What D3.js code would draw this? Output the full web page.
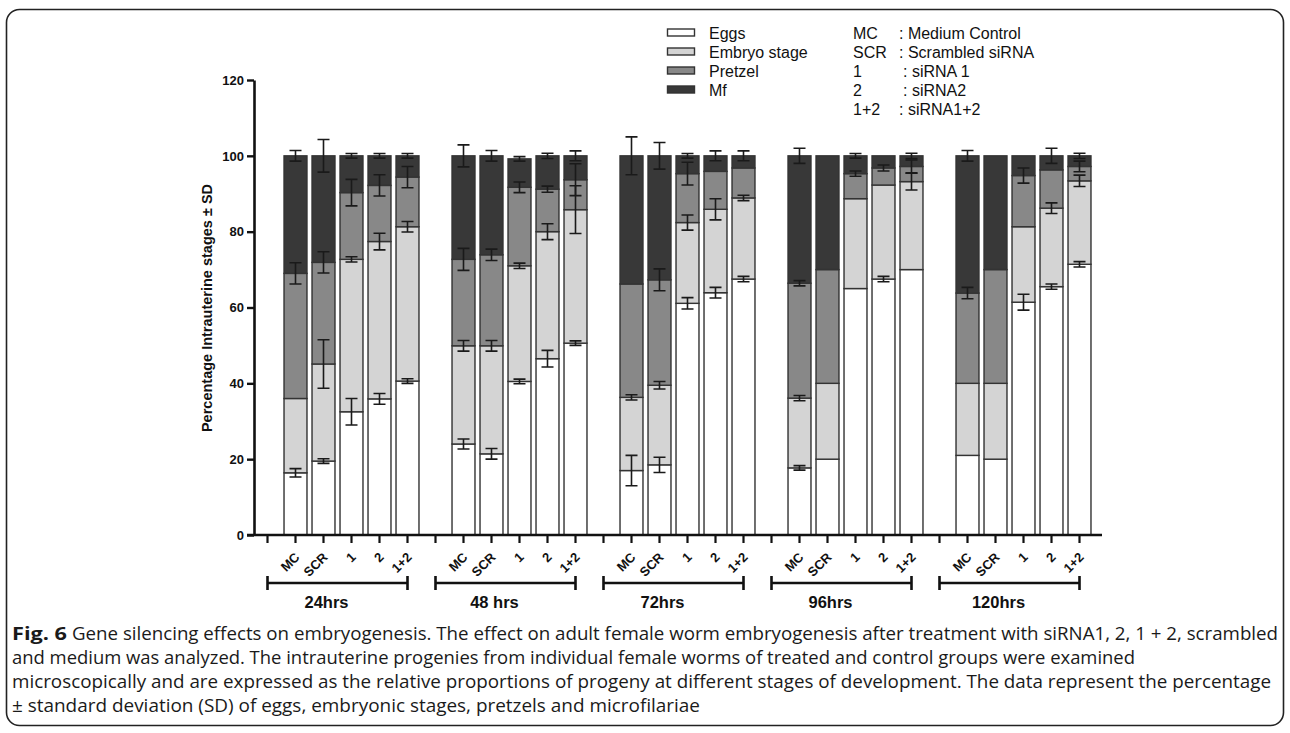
<!DOCTYPE html>
<html>
<head>
<meta charset="utf-8">
<script src="https://cdn.jsdelivr.net/npm/d3@7/dist/d3.min.js"></script>
<style>
  body { margin: 0; background: #fff; }
  svg text { font-family: Arial, "Liberation Sans", sans-serif; fill: #111; }
  .caption text { font-family: "Open Sans", "Noto Sans", sans-serif; fill: #1a1a1a; }
</style>
</head>
<body>
<svg id="chart" width="1290" height="733"></svg>
<script>
// time points and treatments (bars inside each time point)
const groups = ["24hrs", "48 hrs", "72hrs", "96hrs", "120hrs"];
const treatments = ["MC", "SCR", "1", "2", "1+2"];
const stages = ["Eggs", "Embryo stage", "Pretzel", "Mf"];
const yTicks = [0, 20, 40, 60, 80, 100, 120];

// percentage of each stage, group by group (MC, SCR, 1, 2, 1+2)
const eggs = [
  16.4, 19.5, 32.5, 35.9, 40.6,
  24.0, 21.4, 40.5, 46.5, 50.6,
  17.0, 18.5, 61.1, 63.9, 67.5,
  17.7, 20.0, 65.0, 67.5, 70.0,
  21.0, 20.0, 61.4, 65.5, 71.4
];
const embryo = [
  19.6, 25.6, 40.2, 41.5, 40.7,
  25.9, 28.5, 30.5, 33.5, 35.2,
  19.3, 21.0, 21.3, 22.0, 21.4,
  18.4, 20.0, 23.7, 24.8, 23.2,
  19.0, 20.0, 19.9, 20.7, 22.0
];
const pretzel = [
  33.0, 26.8, 17.6, 14.8, 13.1,
  22.8, 24.0, 20.7, 11.2, 7.9,
  29.9, 27.8, 12.9, 10.0, 7.9,
  30.3, 30.0, 6.6, 4.5, 4.0,
  23.8, 30.0, 13.5, 10.1, 3.8
];
const mf = [
  31.0, 28.1, 9.7, 7.8, 5.6,
  27.3, 26.1, 7.5, 8.8, 6.3,
  33.8, 32.7, 4.7, 4.1, 3.2,
  33.6, 30.0, 4.7, 3.2, 2.8,
  36.2, 30.0, 5.2, 3.7, 2.8
];

// standard deviations (0 = no error bar drawn)
const eggsSD = [
  1.1, 0.6, 3.5, 1.4, 0.6,
  1.3, 1.4, 0.6, 2.2, 0.6,
  4.0, 2.0, 1.5, 1.4, 0.7,
  0.6, 0, 0, 0.7, 0,
  0, 0, 2.1, 0.7, 0.7
];
const embryoSD = [
  0, 6.4, 0.7, 2.2, 1.4,
  1.4, 1.4, 0.7, 2.1, 6.3,
  0.7, 1.0, 2.0, 2.8, 0.7,
  0.7, 0, 0, 0, 2.2,
  0, 0, 0, 1.4, 1.5
];
const pretzelSD = [
  2.8, 2.8, 3.5, 2.8, 2.8,
  2.9, 1.5, 1.4, 0.8, 4.2,
  0, 2.9, 3.0, 0, 0,
  0.7, 0, 0.7, 0.8, 1.7,
  1.5, 0, 2.0, 0, 1.4
];
const mfSD = [
  1.4, 4.3, 0.6, 0.6, 0.6,
  2.9, 1.4, 0.6, 0.7, 1.3,
  5.0, 3.5, 0.6, 1.3, 1.3,
  2.0, 0, 0.6, 0, 0.7,
  1.4, 0, 0, 2.0, 0.7
];

const abbreviations = ["MC", "SCR", "1", "2", "1+2"];
const meanings = [": Medium Control", ": Scrambled siRNA", ": siRNA 1", ": siRNA2", ": siRNA1+2"];

const captionBold = "Fig. 6";
const captionLines = [
  "Gene silencing effects on embryogenesis. The effect on adult female worm embryogenesis after treatment with siRNA1, 2, 1 + 2, scrambled",
  "and medium was analyzed. The intrauterine progenies from individual female worms of treated and control groups were examined",
  "microscopically and are expressed as the relative proportions of progeny at different stages of development. The data represent the percentage",
  "\u00b1 standard deviation (SD) of eggs, embryonic stages, pretzels and microfilariae"
];

const fills = ["#ffffff", "#d4d4d4", "#888888", "#383838"];
const values = [eggs, embryo, pretzel, mf];
const sds = [eggsSD, embryoSD, pretzelSD, mfSD];

// build the rows for the stack
const rows = [];
groups.forEach((g, gi) => {
  treatments.forEach((t, ti) => {
    const i = gi * treatments.length + ti;
    const row = { key: g + "|" + t, group: g, treatment: t, i: i };
    stages.forEach((s, si) => { row[s] = values[si][i]; });
    rows.push(row);
  });
});

// one empty slot before each group, then five bars
const slots = [];
groups.forEach(g => {
  slots.push(g + "|gap");
  treatments.forEach(t => slots.push(g + "|" + t));
});

const svg = d3.select("#chart");

// frame
svg.append("rect")
  .attr("x", 6.5).attr("y", 9.5)
  .attr("width", 1277).attr("height", 716)
  .attr("rx", 13).attr("ry", 13)
  .attr("fill", "none").attr("stroke", "#222").attr("stroke-width", 1.6);

const x = d3.scaleBand()
  .domain(slots)
  .range([253.5, 1093.5])
  .paddingInner(0.18)
  .paddingOuter(0.09);

const y = d3.scaleLinear().domain([0, 120]).range([535, 80]);

const stacked = d3.stack().keys(stages)(rows);

// bars
const layers = svg.append("g").attr("class", "bars")
  .selectAll("g")
  .data(stacked)
  .enter().append("g")
  .attr("fill", (d, i) => fills[i]);

layers.selectAll("rect")
  .data(d => d)
  .enter().append("rect")
  .attr("x", d => x(d.data.key))
  .attr("y", d => y(d[1]))
  .attr("width", x.bandwidth())
  .attr("height", d => y(d[0]) - y(d[1]))
  .attr("stroke", "#333")
  .attr("stroke-width", 1.4);

// error bars at the top of every segment
const errs = [];
stacked.forEach((layer, si) => {
  layer.forEach(d => {
    const sd = sds[si][d.data.i];
    if (sd > 0) errs.push({ key: d.data.key, top: d[1], sd: sd });
  });
});

const cap = 6;
const errG = svg.append("g").attr("class", "errors")
  .attr("stroke", "#1a1a1a").attr("stroke-width", 1.6).attr("fill", "none");
errs.forEach(e => {
  const cx = x(e.key) + x.bandwidth() / 2;
  const y1 = y(e.top + e.sd), y2 = y(e.top - e.sd);
  errG.append("path")
    .attr("d", `M${cx},${y1}V${y2}M${cx - cap},${y1}H${cx + cap}M${cx - cap},${y2}H${cx + cap}`);
});

// y axis
const yAxis = svg.append("g")
  .attr("transform", "translate(254,0)")
  .call(d3.axisLeft(y).tickValues(yTicks).tickSize(7).tickSizeOuter(0).tickPadding(3));
yAxis.select(".domain").attr("stroke", "#111").attr("stroke-width", 2.6);
yAxis.selectAll(".tick line").attr("stroke", "#111").attr("stroke-width", 2.4);
yAxis.selectAll(".tick text")
  .style("font-size", "13px").style("font-weight", "bold").attr("fill", "#111");

// x axis: ticks at every slot, labels only under bars
const xAxis = svg.append("g")
  .attr("transform", "translate(0,535)")
  .call(d3.axisBottom(x).tickSize(8).tickSizeOuter(0).tickFormat(""));
xAxis.select(".domain").attr("d", "M247,0H1102").attr("stroke", "#111").attr("stroke-width", 2.6);
xAxis.selectAll(".tick line").attr("stroke", "#111").attr("stroke-width", 2.2);

svg.append("g").selectAll("text")
  .data(rows)
  .enter().append("text")
  .attr("transform", d => `translate(${x(d.key) + x.bandwidth() / 2 + 5},558) rotate(-45)`)
  .attr("text-anchor", "end")
  .style("font-size", "13px")
  .style("font-weight", "bold")
  .text(d => d.treatment);

// group brackets and labels
const brackets = svg.append("g").attr("stroke", "#111").attr("stroke-width", 2.6).attr("fill", "none");
groups.forEach(g => {
  const x0 = x(g + "|gap") + x.bandwidth() / 2;
  const x1 = x(g + "|1+2") + x.bandwidth() / 2;
  brackets.append("path").attr("d", `M${x0},576V590M${x0},583H${x1}M${x1},576V590`);
  svg.append("text")
    .attr("x", x(g + "|1") + x.bandwidth() / 2 - 25)
    .attr("y", 608)
    .attr("text-anchor", "middle")
    .style("font-size", "16.5px")
    .style("font-weight", "bold")
    .text(g);
});

// y axis title
svg.append("text")
  .attr("transform", "translate(212,308) rotate(-90)")
  .attr("text-anchor", "middle")
  .style("font-size", "14.5px")
  .style("font-weight", "bold")
  .text("Percentage Intrauterine stages \u00b1 SD");

// legend: stages
const legend = svg.append("g");
stages.forEach((s, i) => {
  const ly = 39 + i * 19;
  legend.append("rect")
    .attr("x", 667.5).attr("y", ly - 10).attr("width", 27).attr("height", 7)
    .attr("fill", fills[i]).attr("stroke", "#333").attr("stroke-width", 1.4);
  legend.append("text").attr("x", 709).attr("y", ly).style("font-size", "16px").text(s);
});

// legend: abbreviations
abbreviations.forEach((a, i) => {
  const ly = 39 + i * 19;
  legend.append("text").attr("x", 853).attr("y", ly).style("font-size", "16px").text(a);
  legend.append("text").attr("x", (i === 2 || i === 3) ? 903 : 899).attr("y", ly)
    .style("font-size", "16px").text(meanings[i]);
});

// caption
const cap0 = svg.append("g").attr("class", "caption");
cap0.append("text")
  .attr("x", 12).attr("y", 640)
  .attr("textLength", 55).attr("lengthAdjust", "spacingAndGlyphs")
  .style("font-size", "18.5px").style("font-weight", "bold")
  .text(captionBold);
const lineEnds = [1278, 1135, 1271, 700];
captionLines.forEach((t, i) => {
  const x0 = i === 0 ? 72 : 12;
  cap0.append("text")
    .attr("x", x0).attr("y", 640 + i * 24)
    .attr("textLength", lineEnds[i] - x0).attr("lengthAdjust", "spacingAndGlyphs")
    .style("font-size", "18.5px")
    .text(t);
});
</script>
</body>
</html>
